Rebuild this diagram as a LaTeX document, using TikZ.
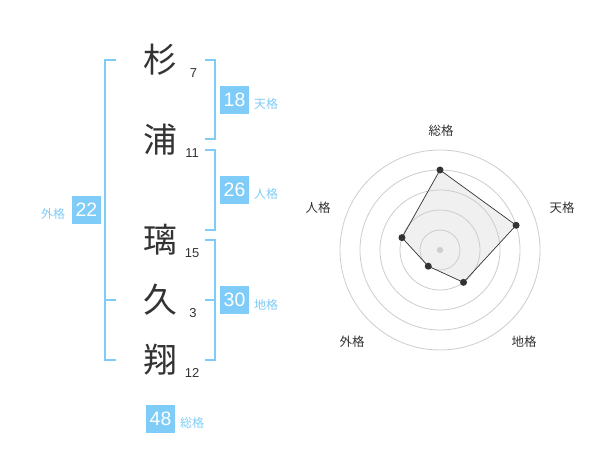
\documentclass[tikz,border=0pt]{standalone}
\usepackage{fontspec}
\setmainfont{Liberation Sans}
\newfontfamily\cjk{Noto Sans CJK JP}
\definecolor{sky}{RGB}{128,204,248}
\definecolor{ink}{RGB}{51,51,51}
\definecolor{ringgray}{RGB}{205,205,205}
\definecolor{polyfill}{RGB}{240,240,240}
\begin{document}
\begin{tikzpicture}[x=1bp,y=-1bp,
  kanji/.style={font=\cjk\fontsize{34}{34}\selectfont, text=ink, inner sep=0pt},
  strokes/.style={font=\fontsize{13}{13}\selectfont, text=ink, inner sep=0pt},
  numbox/.style={fill=sky, text=white, minimum width=28.5bp, minimum height=28.5bp, inner sep=0pt, font=\fontsize{19.5}{19.5}\selectfont},
  kaku/.style={font=\cjk\fontsize{12}{12}\selectfont, text=sky, inner sep=0pt},
  bracket/.style={draw=sky, line width=2bp},
  ring/.style={draw=ringgray, line width=0.8bp},
  axislabel/.style={font=\cjk\fontsize{12.5}{12.5}\selectfont, text=ink, inner sep=0pt},
  dot/.style={circle, fill=ink, inner sep=0pt, minimum size=7bp},
  polyline/.style={draw=ink, line width=0.7bp},
  polyarea/.style={fill=polyfill}
]
\useasboundingbox (0,0) rectangle (600,470);
\fill[white] (0,0) rectangle (600,470);

% name characters and stroke counts
\node[kanji] (c1) at (160,60) {杉};
\node[kanji] (c2) at (160,140) {浦};
\node[kanji] (c3) at (160,240) {璃};
\node[kanji] (c4) at (160,300) {久};
\node[kanji] (c5) at (160,360) {翔};
\node[strokes] (n1) at (193.5,72.7) {7};
\node[strokes] (n2) at (192,153) {11};
\node[strokes] (n3) at (192,252.7) {15};
\node[strokes] (n4) at (193,312.7) {3};
\node[strokes] (n5) at (192,372.7) {12};

% brackets
\draw[bracket] (116,60) -| (104.5,359.5) -- (116,359.5);
\draw[bracket] (104.5,300) -- (116,300);
\draw[bracket] (205,60) -| (215,139.5) -- (205,139.5);
\draw[bracket] (205,150) -| (215,230) -- (205,230);
\draw[bracket] (205,240) -| (215,359.5) -- (205,359.5);
\draw[bracket] (205,300) -- (215,300);

% score boxes and labels
\node[numbox] (b1) at (234.5,100) {18};
\node[kaku] (k1) at (266,104) {天格};
\node[numbox] (b2) at (234.5,190) {26};
\node[kaku] (k2) at (266,194) {人格};
\node[numbox] (b3) at (234.5,300) {30};
\node[kaku] (k3) at (266,305) {地格};
\node[numbox] (b4) at (86.5,210) {22};
\node[kaku] (k4) at (53,214) {外格};
\node[numbox] (b5) at (160.5,419) {48};
\node[kaku] (k5) at (192,423) {総格};

% radar chart
\coordinate (ctr) at (440,250);
\path (ctr) ++(-90:80) coordinate (q1);
\path (ctr) ++(-18:80) coordinate (q2);
\path (ctr) ++(54:40) coordinate (q3);
\path (ctr) ++(126:20) coordinate (q4);
\path (ctr) ++(198:40) coordinate (q5);
\fill[polyarea] (q1) -- (q2) -- (q3) -- (q4) -- (q5) -- cycle;
\foreach \r in {20,40,60,80,100} \draw[ring] (ctr) circle[radius=\r];
\fill[ringgray] (ctr) circle[radius=3.2];
\draw[polyline] (q1) -- (q2) -- (q3) -- (q4) -- (q5) -- cycle;
\node[dot] (p1) at (q1) {};
\node[dot] (p2) at (q2) {};
\node[dot] (p3) at (q3) {};
\node[dot] (p4) at (q4) {};
\node[dot] (p5) at (q5) {};
\node[axislabel] (a1) at (441,131) {総格};
\node[axislabel] (a2) at (562,208) {天格};
\node[axislabel] (a3) at (524,342) {地格};
\node[axislabel] (a4) at (352,342) {外格};
\node[axislabel] (a5) at (318,208) {人格};
\end{tikzpicture}
\end{document}
